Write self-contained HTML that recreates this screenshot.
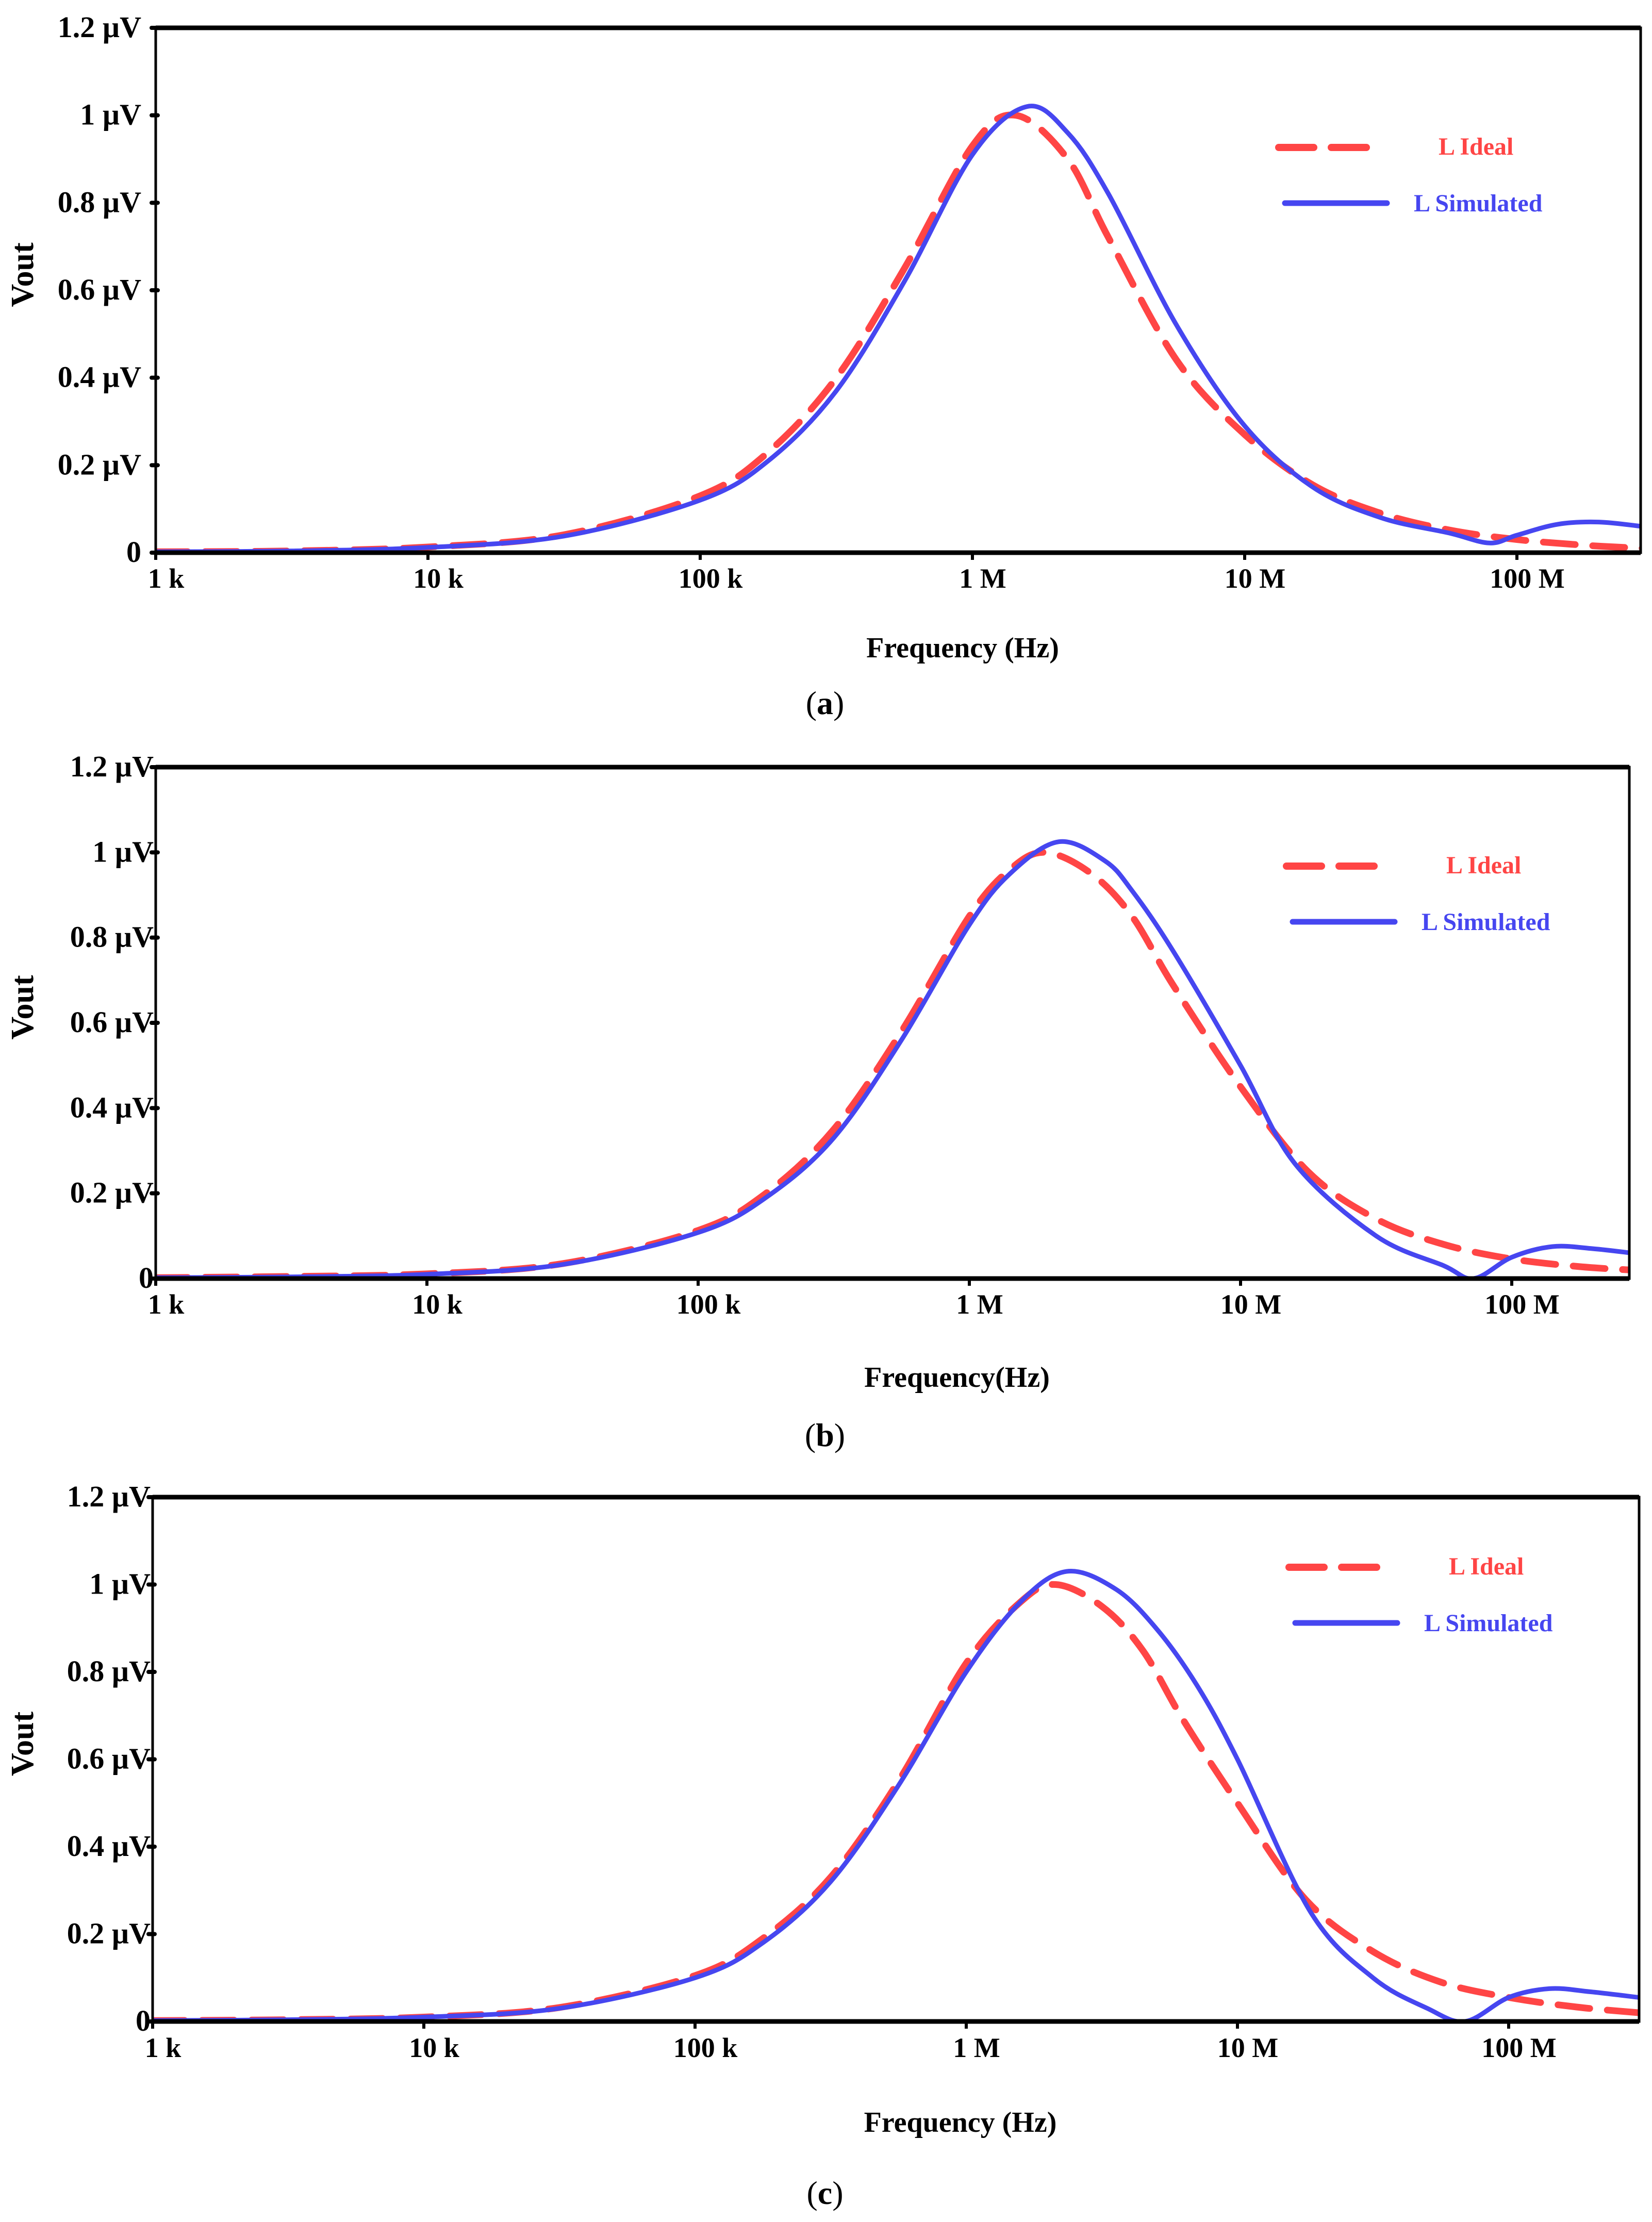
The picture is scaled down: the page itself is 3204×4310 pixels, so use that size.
<!DOCTYPE html>
<html><head><meta charset="utf-8"><style>
html,body{margin:0;padding:0;background:#fff;}
svg{display:block;}
text{font-family:"Liberation Serif",serif;}
</style></head><body>
<svg id="fig" xmlns="http://www.w3.org/2000/svg" width="3204" height="4310" viewBox="0 0 3204 4310"></svg>
<script>
// ---- data (log10 frequency grid + Vout in µV) ----
const yTicks = [0, 0.2, 0.4, 0.6, 0.8, 1, 1.2];
const yTickLabels = ["0", "0.2  µV", "0.4  µV", "0.6  µV", "0.8  µV", "1  µV", "1.2  µV"];
const xTicks = [3, 4, 5, 6, 7, 8];
const xTickLabels = ["1 k", "10 k", "100 k", "1 M", "10 M", "100 M"];

const aIdealX = [3,3.5,4,4.5,5,5.25,5.5,5.75,6,6.16,6.35,6.5,6.75,7,7.25,7.5,7.75,8,8.25,8.46];
const aIdealY = [0.002,0.004,0.013,0.041,0.13,0.23,0.40,0.65,0.93,1.0,0.90,0.72,0.44,0.27,0.155,0.09,0.052,0.03,0.017,0.01];
const aSimX = [3,3.5,4,4.5,5,5.25,5.5,5.75,6,6.2,6.35,6.5,6.75,7,7.25,7.5,7.75,7.9,8,8.15,8.3,8.46];
const aSimY = [0.002,0.004,0.012,0.038,0.12,0.21,0.37,0.62,0.91,1.02,0.96,0.82,0.52,0.29,0.15,0.08,0.045,0.022,0.04,0.065,0.07,0.06];

const bIdealX = [3,3.5,4,4.5,5,5.25,5.5,5.75,6,6.15,6.28,6.45,6.6,6.75,7,7.25,7.5,7.75,8,8.25,8.44];
const bIdealY = [0.002,0.005,0.011,0.035,0.113,0.2,0.35,0.58,0.85,0.96,1.0,0.95,0.85,0.69,0.45,0.25,0.14,0.08,0.046,0.028,0.02];
const bSimX = [3,3.5,4,4.5,5,5.25,5.5,5.75,6,6.15,6.33,6.5,6.6,6.75,7,7.2,7.5,7.75,7.86,8,8.15,8.3,8.44];
const bSimY = [0.002,0.004,0.01,0.033,0.108,0.19,0.33,0.56,0.83,0.95,1.025,0.98,0.91,0.77,0.5,0.27,0.1,0.03,0.0,0.05,0.075,0.07,0.06];

const cIdealX = [3,3.5,4,4.5,5,5.25,5.5,5.75,6,6.2,6.33,6.5,6.65,6.8,7,7.25,7.5,7.75,8,8.25,8.48];
const cIdealY = [0.002,0.004,0.01,0.032,0.105,0.19,0.33,0.55,0.82,0.96,1.0,0.95,0.85,0.69,0.5,0.28,0.16,0.09,0.055,0.033,0.02];
const cSimX = [3,3.5,4,4.5,5,5.25,5.5,5.75,6,6.2,6.37,6.55,6.7,6.85,7,7.27,7.5,7.7,7.84,8,8.15,8.3,8.48];
const cSimY = [0.002,0.004,0.01,0.03,0.1,0.18,0.32,0.54,0.8,0.96,1.03,0.99,0.9,0.77,0.6,0.25,0.1,0.03,0.0,0.055,0.075,0.068,0.055];

const NS = "http://www.w3.org/2000/svg";
const svg = document.getElementById('fig');
function mk(tag, attrs, parent, txt){
  const e = document.createElementNS(NS, tag);
  for (const k in attrs) e.setAttribute(k, attrs[k]);
  if (txt !== undefined) e.textContent = txt;
  (parent||svg).appendChild(e);
  return e;
}
function smooth(pts){
  let d = "M" + pts[0][0].toFixed(1) + "," + pts[0][1].toFixed(1);
  for (let i=0;i<pts.length-1;i++){
    const p0 = pts[Math.max(0,i-1)], p1 = pts[i], p2 = pts[i+1], p3 = pts[Math.min(pts.length-1,i+2)];
    const c1x = p1[0]+(p2[0]-p0[0])/6, c1y = p1[1]+(p2[1]-p0[1])/6;
    const c2x = p2[0]-(p3[0]-p1[0])/6, c2y = p2[1]-(p3[1]-p1[1])/6;
    d += " C"+c1x.toFixed(1)+","+c1y.toFixed(1)+" "+c2x.toFixed(1)+","+c2y.toFixed(1)+" "+p2[0].toFixed(1)+","+p2[1].toFixed(1);
  }
  return d;
}

const panels = [
  {id:'a', L:302, R:3182, T:54, B:1072, dec:528, ix:aIdealX, iy:aIdealY, sx:aSimX, sy:aSimY, lab:-28,
   xlabY:1140, xtitle:"Frequency (Hz)", xtY:1275, capY:1385, legX:2480, legY:286},
  {id:'b', L:302, R:3160, T:1488, B:2480, dec:526, ix:bIdealX, iy:bIdealY, sx:bSimX, sy:bSimY, lab:-4,
   xlabY:2548, xtitle:"Frequency(Hz)", xtY:2690, capY:2805, legX:2495, legY:1680},
  {id:'c', L:296, R:3179, T:2904, B:3921, dec:526, ix:cIdealX, iy:cIdealY, sx:cSimX, sy:cSimY, lab:-4,
   xlabY:3990, xtitle:"Frequency (Hz)", xtY:4135, capY:4275, legX:2500, legY:3040}
];

panels.forEach(p => {
  const g = mk('g', {});
  
  
  const xs = v => p.L + (v - 3) * p.dec;
  const ys = v => p.B - (v / 1.2) * (p.B - p.T);
  const clipId = 'clip' + p.id;
  const cp = mk('clipPath', {id: clipId}, g);
  mk('rect', {x:p.L, y:p.T-10, width:p.R-p.L, height:p.B-p.T+12}, cp);

  const ideal = mk('path', {d: smooth(p.ix.map((x,i)=>[xs(x), ys(p.iy[i])])), fill:'none', stroke:'#ff4545', 'stroke-width':13, 'stroke-dasharray':'62 34', 'stroke-linecap':'round', 'clip-path':'url(#'+clipId+')'}, g);
  
  
  const sim = mk('path', {d: smooth(p.sx.map((x,i)=>[xs(x), ys(p.sy[i])])), fill:'none', stroke:'#4646f0', 'stroke-width':9, 'clip-path':'url(#'+clipId+')'}, g);
  
  

  const fr = mk('rect', {x:p.L, y:p.T, width:p.R-p.L, height:p.B-p.T, fill:'none', stroke:'#000', 'stroke-width':5}, g);
  
  
  mk('line', {x1:p.L, y1:p.T, x2:p.R, y2:p.T, stroke:'#000', 'stroke-width':9}, g);
  const xa = mk('line', {x1:p.L, y1:p.B, x2:p.R, y2:p.B, stroke:'#000', 'stroke-width':9}, g);
  
  

  yTicks.forEach((v,i) => {
    const y = ys(v);
    mk('line', {x1:p.L-8, y1:y, x2:p.L+4, y2:y, stroke:'#000', 'stroke-width':8, 'stroke-linecap':'round'}, g);
    const t = mk('text', {x:p.L+p.lab, y:y+18, 'text-anchor':'end', 'font-size':58, 'font-weight':'bold'}, g, yTickLabels[i]);
    
    
  });
  xTicks.forEach((v,i) => {
    const x = xs(v);
    mk('line', {x1:x, y1:p.B, x2:x, y2:p.B+14, stroke:'#000', 'stroke-width':6}, g);
    const t = mk('text', {x:x+20, y:p.xlabY, 'text-anchor':'middle', 'font-size':54, 'font-weight':'bold'}, g, xTickLabels[i]);
    
    
  });
  const cx = (p.L + p.R) / 2 + 125;
  const xt = mk('text', {x:cx, y:p.xtY, 'text-anchor':'middle', 'font-size':56, 'font-weight':'bold'}, g, p.xtitle);
  
  
  const ymid = (p.T + p.B) / 2 - 30;
  const yt = mk('text', {x:64, y:ymid, 'text-anchor':'middle', 'font-size':62, 'font-weight':'bold', transform:'rotate(-90 64 '+ymid+')'}, g, "Vout");
  
  
  const cap = mk('text', {x:1600, y:p.capY, 'text-anchor':'middle', 'font-size':64}, g);
  mk('tspan', {}, cap, '(');
  mk('tspan', {'font-weight':'bold'}, cap, p.id);
  mk('tspan', {}, cap, ')');
  
  

  const lg = mk('g', {}, g);
  
  
  mk('line', {x1:p.legX, y1:p.legY, x2:p.legX+175, y2:p.legY, stroke:'#ff4545', 'stroke-width':14, 'stroke-dasharray':'68 34', 'stroke-linecap':'round'}, lg);
  const li = mk('text', {x:p.legX+310, y:p.legY+14, 'font-size':48, 'font-weight':'bold', fill:'#ff4545'}, lg, 'L Ideal');
  
  
  mk('line', {x1:p.legX+12, y1:p.legY+108, x2:p.legX+210, y2:p.legY+108, stroke:'#4646f0', 'stroke-width':11, 'stroke-linecap':'round'}, lg);
  const ls = mk('text', {x:p.legX+262, y:p.legY+124, 'font-size':48, 'font-weight':'bold', fill:'#4646f0'}, lg, 'L Simulated');
  
  
});
</script>
</body></html>
